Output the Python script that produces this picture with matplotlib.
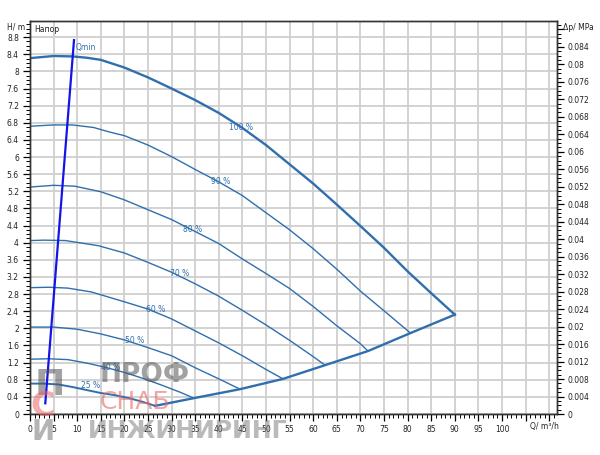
import matplotlib.pyplot as plt
from matplotlib.ticker import MultipleLocator, FixedLocator, FuncFormatter

# pump curves (Q in m3/h, H in m)
q100 = [0, 5, 9, 12, 15, 20, 25, 30, 35, 40, 45, 50, 55, 60, 65, 70, 75, 80, 85, 90]
h100 = [8.31, 8.36, 8.35, 8.32, 8.27, 8.09, 7.86, 7.60, 7.33, 7.03, 6.68, 6.28, 5.83, 5.38, 4.89, 4.39, 3.88, 3.33, 2.82, 2.32]

q90 = [0, 5, 9, 13.5, 17, 20, 25, 30, 35, 40, 45, 50, 55, 60, 65, 70, 75, 80.6]
h90 = [6.72, 6.75, 6.75, 6.69, 6.58, 6.50, 6.28, 6.01, 5.71, 5.42, 5.10, 4.70, 4.30, 3.86, 3.38, 2.87, 2.41, 1.89]

q80 = [0, 5, 9.5, 15, 20, 25, 30, 35, 40, 45, 50, 55, 60, 65, 70, 71.6]
h80 = [5.30, 5.34, 5.32, 5.19, 5.0, 4.77, 4.54, 4.26, 3.98, 3.62, 3.28, 2.93, 2.51, 2.06, 1.64, 1.47]

q70 = [0, 3, 7.5, 14.5, 20, 25, 30, 35, 40, 45, 50, 55, 60, 62.5]
h70 = [4.05, 4.06, 4.05, 3.93, 3.76, 3.54, 3.31, 3.04, 2.75, 2.42, 2.08, 1.72, 1.34, 1.14]

q60 = [0, 4, 8, 13, 20, 25, 30, 35, 40, 45, 50, 53.6]
h60 = [2.95, 2.96, 2.94, 2.85, 2.62, 2.45, 2.22, 1.94, 1.66, 1.36, 1.04, 0.82]

q50 = [0, 5, 10, 15, 20, 25, 30, 35, 40, 44.5]
h50 = [2.03, 2.03, 1.98, 1.87, 1.73, 1.55, 1.36, 1.08, 0.82, 0.58]

q40 = [0, 4, 8, 12, 16, 20, 24, 28, 32, 34.7]
h40 = [1.28, 1.29, 1.27, 1.19, 1.09, 0.97, 0.83, 0.67, 0.50, 0.37]

q25 = [0, 3, 6, 9, 12, 15, 18, 21, 24, 26.5]
h25 = [0.71, 0.71, 0.69, 0.63, 0.56, 0.49, 0.44, 0.37, 0.28, 0.19]

# system (end) curve through the end points
q_sys = [26.5, 34.7, 44.5, 53.6, 62.5, 71.6, 80.6, 90]
h_sys = [0.19, 0.37, 0.58, 0.82, 1.14, 1.47, 1.89, 2.32]

# Qmin line
q_min = [3.24, 9.32]
h_min = [0.25, 8.73]

labels = ['100 %', '90 %', '80 %', '70 %', '60 %', '50 %', '40 %', '25 %']
label_q = [44.8, 40.3, 34.5, 31.7, 26.6, 22.1, 17.1, 12.9]
label_h = [6.70, 5.43, 4.32, 3.29, 2.43, 1.71, 1.09, 0.66]

m_to_mpa = 0.0098
q_max, h_max = 111.6, 9.18

curve_col = '#2f6fad'
grid_col = '#cfcfcf'

fig = plt.figure(figsize=(6, 4.55), dpi=100)
ax = fig.add_axes([0.05, 0.0901, 0.878, 0.864])

curves = [(q100, h100, 1.7), (q90, h90, 1.0), (q80, h80, 1.0), (q70, h70, 1.0),
          (q60, h60, 1.0), (q50, h50, 1.0), (q40, h40, 1.0), (q25, h25, 1.4)]
for q, h, lw in curves:
    ax.plot(q, h, color=curve_col, lw=lw, zorder=3, solid_joinstyle='round')
ax.plot(q_sys, h_sys, color=curve_col, lw=1.7, zorder=3)
ax.plot(q_min, h_min, color='#1414e6', lw=1.6, zorder=4)
ax.text(q_min[1] + 0.4, 8.55, 'Qmin', color=curve_col, fontsize=5.5, va='center')

for txt, x, y in zip(labels, label_q, label_h):
    ax.text(x, y, txt, color=curve_col, fontsize=5.5, ha='center', va='center', zorder=5)

ax.text(0.9, 8.98, 'Напор', fontsize=5.5, va='center', color='#222222')

ax.set_xlim(0, q_max)
ax.set_ylim(0, h_max)

# x ticks
ax.xaxis.set_major_locator(FixedLocator(list(range(0, 111, 5))))
ax.xaxis.set_major_formatter(FuncFormatter(lambda v, p: '' if v > 100 else f'{v:g}'))
ax.xaxis.set_minor_locator(MultipleLocator(1))
# y ticks
ax.yaxis.set_major_locator(MultipleLocator(0.4))
ax.yaxis.set_major_formatter(FuncFormatter(lambda v, p: f'{round(v, 2):g}'))
ax.yaxis.set_minor_locator(MultipleLocator(0.1))

ax.tick_params(which='major', length=5, width=0.9, labelsize=5.5, labelcolor='#222222', pad=3)
ax.tick_params(which='minor', length=3, width=0.7)
ax.grid(True, which='major', color=grid_col, lw=1.3, zorder=0)
ax.set_axisbelow(True)

ax2 = ax.twinx()
ax2.set_ylim(0, h_max * m_to_mpa)
ax2.yaxis.set_major_locator(MultipleLocator(0.004))
ax2.yaxis.set_major_formatter(FuncFormatter(lambda v, p: '' if v > 0.0845 else f'{round(v, 4):g}'))
ax2.yaxis.set_minor_locator(MultipleLocator(0.001))
ax2.tick_params(which='major', length=5, width=0.9, labelsize=5.5, labelcolor='#222222', pad=3)
ax2.tick_params(which='minor', length=3, width=0.7)

for a in (ax, ax2):
    for s in a.spines.values():
        s.set_color('#333333')
        s.set_linewidth(1.0)

fig.text(25 / 600, 1 - 27 / 455, 'H/ m', fontsize=5.5, ha='right', va='center', color='#222222')
fig.text(563 / 600, 1 - 28 / 455, 'Δp/ MPa', fontsize=5.5, ha='left', va='center', color='#222222')
fig.text(544 / 600, 1 - 427 / 455, 'Q/ m³/h', fontsize=5.5, ha='center', va='center', color='#222222')

# watermark
fig.text(35 / 600, 1 - 395 / 455, 'П', fontsize=26, fontweight='bold', color='#555555', alpha=0.55)
fig.text(30 / 600, 1 - 416 / 455, 'С', fontsize=24, fontweight='bold', color='#ee6666', alpha=0.55)
fig.text(32 / 600, 1 - 440 / 455, 'И', fontsize=20, fontweight='bold', color='#777777', alpha=0.55)
fig.text(100 / 600, 1 - 382 / 455, 'ПРОФ', fontsize=19, fontweight='bold', color='#555555', alpha=0.55)
fig.text(100 / 600, 1 - 409 / 455, 'СНАБ', fontsize=18, color='#ee6666', alpha=0.6)
fig.text(88 / 600, 1 - 438 / 455, 'ИНЖИНИРИНГ', fontsize=17, fontweight='bold', color='#777777', alpha=0.5)

fig.savefig('out.png', dpi=100)
